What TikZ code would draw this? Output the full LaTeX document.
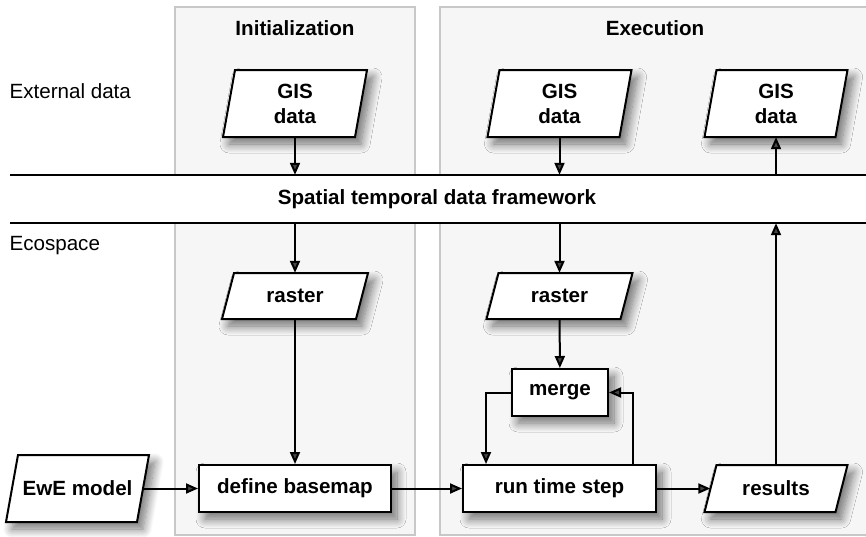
\documentclass[tikz,border=0pt]{standalone}
\usepackage{fontspec}
\setmainfont{Liberation Sans}
\usepackage{tikz}
\usetikzlibrary{calc, positioning, arrows.meta, shadows.blur}
\usepackage{xcolor}
\definecolor{panelFill}{RGB}{246, 246, 246}
\definecolor{panelLine}{RGB}{200, 200, 200}

\newcommand{\labelfont}{\fontsize{20.6}{25}\selectfont}
% parallelogram (name, x, y, width, height, text)
\newcommand{\slantbox}[6]{%
  \draw[ioshape] ({#2-#4/2+6},{#3+#5/2}) -- ({#2+#4/2+6},{#3+#5/2})
    -- ({#2+#4/2-6},{#3-#5/2}) -- ({#2-#4/2-6},{#3-#5/2}) -- cycle;
  \node[iobox, minimum width=#4pt, minimum height=#5pt] (#1) at (#2,#3) {#6};}

\tikzset{
  shade/.style={blur shadow={shadow xshift=6pt, shadow yshift=-7pt, shadow blur radius=9pt, shadow blur steps=12, shadow opacity=55}},
  procbox/.style={draw, line width=2pt, fill=white, font=\labelfont\bfseries, inner sep=0pt, shade},
  iobox/.style={font=\labelfont\bfseries, inner sep=0pt, align=center},
  ioshape/.style={draw, line width=2pt, fill=white, line join=miter, shade},
  arr/.style={line width=2pt, -{Triangle[length=12pt, width=10pt]}},
  panel/.style={draw=panelLine, fill=panelFill, line width=1.4pt},
}

\begin{document}
\begin{tikzpicture}[x=1pt, y=1pt, font=\labelfont]
  \useasboundingbox (0,0) rectangle (866,-536);
  % Initialization and execution panels
  \draw[panel] (175,-7) rectangle (415,-535);
  \fill[panelFill] (440,-7) rectangle (866,-535);
  \draw[panelLine, line width=1.4pt] (866,-7) -- (440,-7) -- (440,-535) -- (866,-535);
  \node[font=\labelfont\bfseries] (initTitle) at (295,-28) {Initialization};
  \node[font=\labelfont\bfseries] (execTitle) at (655,-28) {Execution};
  % layer labels
  \node[anchor=west] (extLabel) at (6,-91) {External data};
  \node[anchor=west] (ecoLabel) at (6,-246) {Ecospace};
  % framework band
  \node[fill=white, minimum width=856pt, minimum height=48pt, inner sep=0pt] (framework) at (438,-199) {};
  \node[font=\labelfont\bfseries] (frameworkText) at (437,-199) {Spatial temporal data framework};
  \draw[line width=2pt] (framework.north west) -- (framework.north east);
  \draw[line width=2pt] (framework.south west) -- (framework.south east);
  % external data
  \slantbox{gisInit}{295}{-103.5}{132}{67}{GIS\\data}
  \slantbox{gisExec}{559.5}{-103.5}{132}{67}{GIS\\data}
  \slantbox{gisOut}{776}{-103.5}{131}{67}{GIS\\data}
  % ecospace
  \slantbox{rasterInit}{295}{-296}{134}{46}{raster}
  \slantbox{rasterExec}{559.5}{-296}{134}{46}{raster}
  \slantbox{ewe}{77.5}{-488.5}{131}{67}{EwE model}
  \slantbox{results}{776}{-488.5}{131}{47}{results}
  \node[procbox, minimum width=96pt, minimum height=47pt] (merge) at (560,-392.5) {merge};
  \node[procbox, minimum width=192pt, minimum height=47pt] (basemap) at (295,-488.5) {define basemap};
  \node[procbox, minimum width=193pt, minimum height=47pt] (runstep) at (559.5,-488.5) {run time step};
  % connectors
  \draw[arr] (gisInit) -- (gisInit |- framework.north);
  \draw[arr] (gisExec) -- (gisExec |- framework.north);
  \draw[arr] (gisOut |- framework.north) -- (gisOut);
  \draw[arr] (rasterInit |- framework.south) -- (rasterInit);
  \draw[arr] (rasterExec |- framework.south) -- (rasterExec);
  \draw[arr] (rasterInit) -- (basemap);
  \draw[arr] (ewe) -- (basemap);
  \draw[arr] (basemap) -- (runstep);
  \draw[arr] (rasterExec) -- (merge);
  \draw[arr] (merge.west) -| ([xshift=24pt]runstep.north west);
  \draw[arr] ([xshift=-24pt]runstep.north east) |- (merge.east);
  \draw[arr] (runstep) -- (results);
  \draw[arr] (results) -- (results |- framework.south);
\end{tikzpicture}
\end{document}
